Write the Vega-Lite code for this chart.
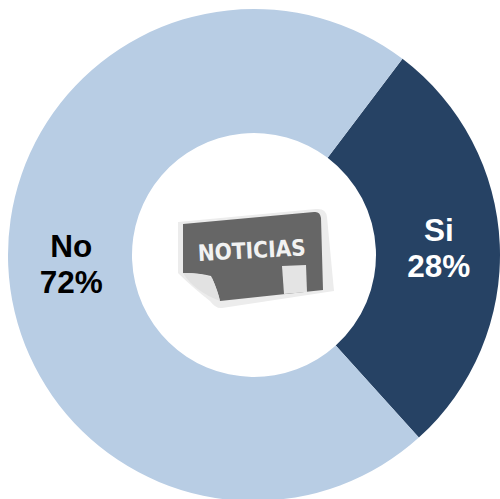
{
  "$schema": "https://vega.github.io/schema/vega-lite/v6.json",
  "width": 492,
  "height": 490,
  "padding": {"left": 8, "top": 9, "right": 0, "bottom": 0},
  "background": "white",
  "config": {"view": {"stroke": null}},
  "resolve": {"scale": {"color": "independent"}},
  "datasets": {
    "answers": [
      {"respuesta": "Si", "pct": 28, "label": "Si\n28%"},
      {"respuesta": "No", "pct": 72, "label": "No\n72%"}
    ],
    "badge": [
      {"part": "halo"},
      {"part": "sheet"},
      {"part": "curl"},
      {"part": "note"}
    ]
  },
  "layer": [
    {
      "data": {"name": "answers"},
      "mark": {"type": "arc", "innerRadius": 122, "outerRadius": 246},
      "encoding": {
        "theta": {
          "field": "pct",
          "type": "quantitative",
          "stack": true,
          "scale": {"domain": [0, 100], "range": [0.648, 6.931]}
        },
        "order": {"field": "pct", "type": "quantitative", "sort": "ascending"},
        "color": {
          "field": "respuesta",
          "type": "nominal",
          "legend": null,
          "scale": {"domain": ["Si", "No"], "range": ["#264264", "#b8cde4"]}
        }
      }
    },
    {
      "data": {"name": "answers"},
      "mark": {
        "type": "text",
        "radius": 184,
        "lineBreak": "\n",
        "lineHeight": 36,
        "font": "Liberation Sans",
        "fontWeight": "bold",
        "fontSize": 31.5,
        "align": "center",
        "baseline": "middle",
        "dx": 1,
        "dy": -15
      },
      "encoding": {
        "theta": {
          "field": "pct",
          "type": "quantitative",
          "stack": true,
          "scale": {"domain": [0, 100], "range": [0.648, 6.931]}
        },
        "order": {"field": "pct", "type": "quantitative", "sort": "ascending"},
        "text": {"field": "label", "type": "nominal"},
        "color": {
          "field": "respuesta",
          "type": "nominal",
          "legend": null,
          "scale": {"domain": ["Si", "No"], "range": ["#ffffff", "#000000"]}
        }
      }
    },
    {
      "data": {"name": "badge"},
      "transform": [{"filter": "datum.part === 'halo'"}],
      "mark": {
        "type": "point",
        "filled": true,
        "opacity": 1,
        "size": 40000,
        "fill": "#ececec",
        "shape": "M-0.76,-0.33 L0.62,-0.46 Q0.72,-0.47 0.73,-0.38 L0.8,0.36 L-0.32,0.53 Q-0.38,0.54 -0.44,0.46 Q-0.62,0.32 -0.76,0.18 Z"
      }
    },
    {
      "data": {"name": "badge"},
      "transform": [{"filter": "datum.part === 'sheet'"}],
      "mark": {
        "type": "point",
        "filled": true,
        "opacity": 1,
        "size": 40000,
        "fill": "#666666",
        "shape": "M-0.71,-0.31 L0.6,-0.43 Q0.66,-0.44 0.67,-0.37 L0.69,0.35 L-0.34,0.46 Q-0.38,0.31 -0.43,0.21 Q-0.54,0.18 -0.71,0.18 Z"
      }
    },
    {
      "data": {"name": "badge"},
      "transform": [{"filter": "datum.part === 'curl'"}],
      "mark": {
        "type": "point",
        "filled": true,
        "opacity": 1,
        "size": 40000,
        "fill": "#e2e2e2",
        "shape": "M-0.71,0.18 Q-0.5,0.18 -0.42,0.23 Q-0.36,0.36 -0.34,0.46 Q-0.6,0.36 -0.71,0.18 Z"
      }
    },
    {
      "data": {"name": "badge"},
      "transform": [{"filter": "datum.part === 'note'"}],
      "mark": {
        "type": "point",
        "filled": true,
        "opacity": 1,
        "size": 40000,
        "fill": "#e4e4e4",
        "shape": "M0.28,0.11 L0.52,0.1 L0.53,0.37 L0.3,0.39 Z"
      }
    },
    {
      "data": {"values": [{"rotulo": "NOTICIAS"}]},
      "mark": {
        "type": "text",
        "font": "DejaVu Sans Condensed, Liberation Sans",
        "fontWeight": "bold",
        "fontSize": 22.5,
        "angle": 357,
        "dx": -2,
        "dy": -4,
        "color": "#f2f2f2",
        "align": "center",
        "baseline": "middle"
      },
      "encoding": {"text": {"field": "rotulo", "type": "nominal"}}
    }
  ]
}
